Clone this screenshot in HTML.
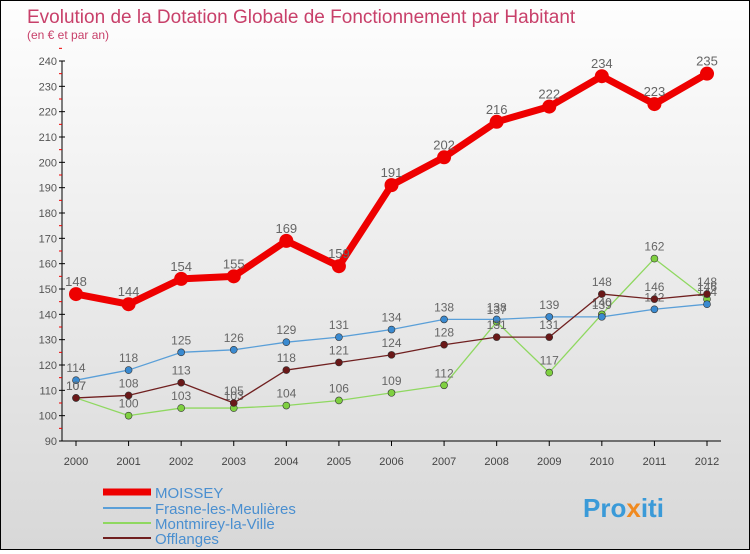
<!DOCTYPE html>
<html><head><meta charset="utf-8">
<style>
html,body{margin:0;padding:0}
body{width:750px;height:550px;overflow:hidden;font-family:"Liberation Sans",sans-serif}
#wrap{position:relative;width:748px;height:548px;border:1px solid #000;background:linear-gradient(#fefefe,#d8d8d8)}
</style></head><body>
<div id="wrap">
<svg id="chart" width="748" height="548">
<text x="26" y="22" font-size="19" fill="#c8406a">Evolution de la Dotation Globale de Fonctionnement par Habitant</text>
<text x="26" y="38" font-size="12" fill="#c8406a">(en € et par an)</text>
<g id="axes"></g><g id="series"></g>
<g font-size="15">
<line x1="102" y1="491" x2="150" y2="491" stroke="#e00" stroke-width="7"/>
<text x="154" y="497" fill="#4a8fd0">MOISSEY</text>
<line x1="102" y1="507" x2="150" y2="507" stroke="#5a9fd8" stroke-width="2"/>
<text x="154" y="513" fill="#4a8fd0">Frasne-les-Meulières</text>
<line x1="102" y1="522" x2="150" y2="522" stroke="#8fd860" stroke-width="2"/>
<text x="154" y="528" fill="#4a8fd0">Montmirey-la-Ville</text>
<line x1="102" y1="537" x2="150" y2="537" stroke="#702020" stroke-width="2"/>
<text x="154" y="543" fill="#4a8fd0">Offlanges</text>
</g>
<text x="582" y="516" font-size="26" font-weight="bold" fill="#3a9ad8">Pro<tspan fill="#f08a20">x</tspan>iti</text>
</svg>
</div>
<script>
const years=[2000,2001,2002,2003,2004,2005,2006,2007,2008,2009,2010,2011,2012];
const yTicks=[90,100,110,120,130,140,150,160,170,180,190,200,210,220,230,240];
const moissey=[148,144,154,155,169,159,191,202,216,222,234,223,235];
const frasne=[114,118,125,126,129,131,134,138,138,139,139,142,144];
const montmirey=[107,100,103,103,104,106,109,112,137,117,140,162,146];
const offlanges=[107,108,113,105,118,121,124,128,131,131,148,146,148];
const NS="http://www.w3.org/2000/svg";
function X(i){return 75+i*(706-75)/(years.length-1);}
function Y(v){return 440-(v-90)*(380/150);}
function mk(t,a,p){const e=document.createElementNS(NS,t);for(const k in a)e.setAttribute(k,a[k]);p.appendChild(e);return e;}
const ax=document.getElementById('axes');
const yl=mk('line',{x1:61,y1:60,x2:61,y2:440,stroke:'#000'},ax);


yTicks.forEach(v=>{
 mk('line',{x1:58,x2:64,y1:Y(v),y2:Y(v),stroke:'#000'},ax);
 mk('line',{x1:58,x2:61,y1:Y(v+5),y2:Y(v+5),stroke:'#e00'},ax);
 const t=mk('text',{x:56,y:Y(v)+4,'font-size':11,fill:'#555','text-anchor':'end'},ax);t.textContent=v;
 
 
});
const xl=mk('line',{x1:61,y1:440,x2:720,y2:440,stroke:'#000'},ax);


years.forEach((y,i)=>{
 mk('line',{x1:X(i),x2:X(i),y1:440,y2:445,stroke:'#000'},ax);
 const t=mk('text',{x:X(i),y:464,'font-size':11,fill:'#444','text-anchor':'middle'},ax);t.textContent=y;
 
 
});
const sg=document.getElementById('series');
function draw(vals,color,w,r,name,fs,dot){
 const g=mk('g',{},sg);
 
 
 mk('polyline',{points:vals.map((v,i)=>X(i)+','+Y(v)).join(' '),fill:'none',stroke:color,'stroke-width':w,'stroke-linejoin':'round'},g);
 vals.forEach((v,i)=>{
  const c=mk('circle',{cx:X(i),cy:Y(v),r:r,fill:dot,stroke:'#333','stroke-width':r>4?0:0.6},g);
  
  
  const t=mk('text',{x:X(i),y:Y(v)-8,'font-size':fs,fill:'#666','text-anchor':'middle'},g);t.textContent=v;
  
  
 });
}
draw(montmirey,'#8fd860',1.3,3.5,'montmirey',12,'#7fd040');
draw(frasne,'#5a9fd8',1.3,3.5,'frasne',12,'#3a8ad0');
draw(offlanges,'#702020',1.3,3.5,'offlanges',12,'#6a1818');
draw(moissey,'#e00',7,7,'moissey',13,'#e00');
</script>
</body></html>
